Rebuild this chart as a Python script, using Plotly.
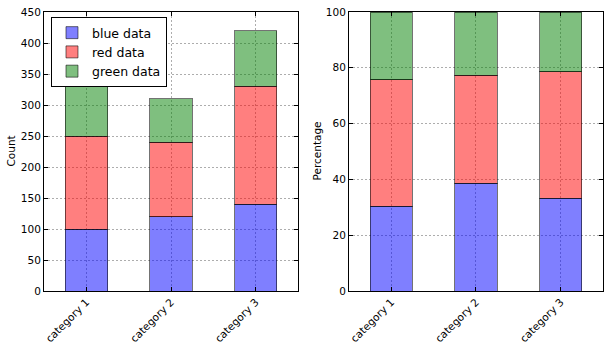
import plotly.graph_objects as go
from plotly.subplots import make_subplots

categories = ["category 1", "category 2", "category 3"]
blue_data = [100, 120, 140]
red_data = [150, 120, 190]
green_data = [80, 70, 90]

totals = [b + r + g for b, r, g in zip(blue_data, red_data, green_data)]
blue_pct = [100.0 * v / t for v, t in zip(blue_data, totals)]
red_pct = [100.0 * v / t for v, t in zip(red_data, totals)]
green_pct = [100.0 * v / t for v, t in zip(green_data, totals)]

fig = make_subplots(rows=1, cols=2, horizontal_spacing=0.0912)

edge = dict(color="rgba(0,0,0,0.55)", width=1)
series = [
    ("blue data", blue_data, blue_pct, "rgba(0,0,255,0.5)"),
    ("red data", red_data, red_pct, "rgba(255,0,0,0.5)"),
    ("green data", green_data, green_pct, "rgba(0,128,0,0.5)"),
]
x_idx = [0, 1, 2]
for name, vals, pct, col in series:
    fig.add_trace(go.Bar(x=x_idx, y=vals, name=name, width=0.5,
                         marker=dict(color=col, line=edge)), row=1, col=1)
    fig.add_trace(go.Bar(x=x_idx, y=pct, name=name, width=0.5, showlegend=False,
                         marker=dict(color=col, line=edge)), row=1, col=2)

axis_common = dict(showline=True, linecolor="black", linewidth=1, mirror="ticks",
                   ticks="inside", ticklen=4, tickcolor="black", automargin=False,
                   showgrid=True, gridcolor="rgba(0,0,0,0.32)", griddash="2px,2px", gridwidth=1,
                   zeroline=False, tickfont=dict(family="DejaVu Sans", size=10.5, color="black"))

for c in (1, 2):
    fig.update_xaxes(range=[-0.5, 2.5], tickmode="array", tickvals=x_idx, ticktext=categories,
                     tickangle=-45, **axis_common, row=1, col=c)

fig.update_yaxes(range=[0, 450], dtick=50, **axis_common, row=1, col=1)
fig.update_yaxes(range=[0, 100], dtick=20, **axis_common, row=1, col=2)

title_font = dict(family="DejaVu Sans", size=10.5, color="black")
fig.add_annotation(text="Count", xref="paper", yref="paper", x=(10 - 44) / 559, y=0.5,
                   xanchor="center", yanchor="middle",
                   textangle=-90, showarrow=False, font=title_font)
fig.add_annotation(text="Percentage", xref="paper", yref="paper", x=(316 - 44) / 559, y=0.5,
                   xanchor="center", yanchor="middle",
                   textangle=-90, showarrow=False, font=title_font)

fig.update_layout(
    barmode="stack",
    width=609, height=346,
    margin=dict(l=44, r=6, t=12, b=55),
    plot_bgcolor="white", paper_bgcolor="white",
    font=dict(family="DejaVu Sans", size=11, color="black"),
    legend=dict(x=0.0125, y=0.982, xanchor="left", yanchor="top", traceorder="normal",
                bordercolor="black", borderwidth=1, bgcolor="white",
                font=dict(family="DejaVu Sans", size=12.5, color="black")),
)

fig.write_html("out.html")
